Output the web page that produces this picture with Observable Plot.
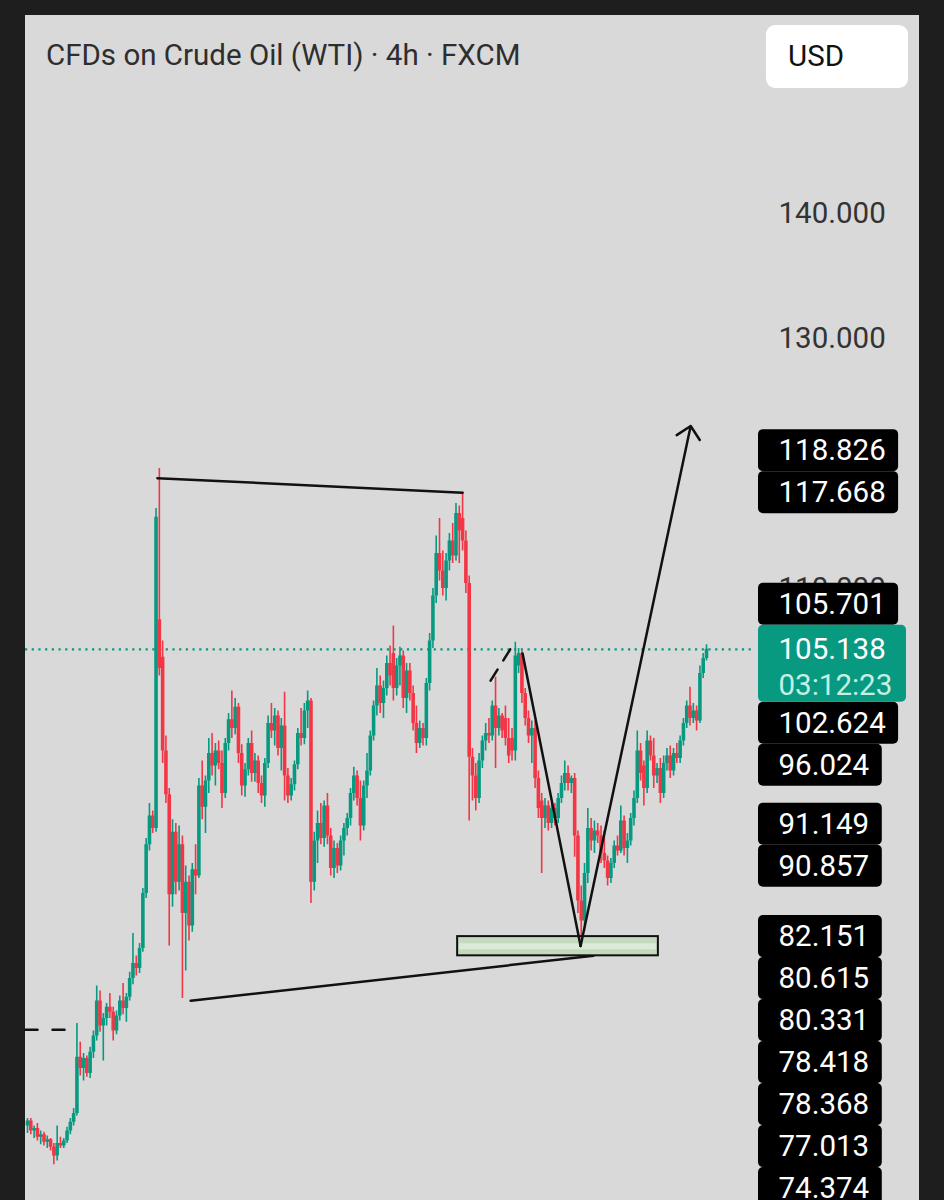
<!DOCTYPE html>
<html><head><meta charset="utf-8">
<script src="https://cdn.jsdelivr.net/npm/d3@7"></script>
<script src="https://cdn.jsdelivr.net/npm/@observablehq/plot@0.6"></script>
<style>
html,body{margin:0;padding:0;background:#1e1e1e;width:944px;height:1200px;overflow:hidden;font-family:Roboto,sans-serif}
#panel{position:absolute;left:25px;top:15px;width:894px;height:1185px;background:#d9d9d9}
#title{position:absolute;left:46px;top:38px;font-size:29.5px;line-height:34px;color:#2e2e2e;white-space:nowrap}
#usd{position:absolute;left:766px;top:25px;width:142px;height:63px;background:#fff;border-radius:9px;font-size:29.5px;line-height:63px;color:#111;box-sizing:border-box;padding-left:22px}
#chart{position:absolute;left:25px;top:95px}
</style></head><body>
<div id="panel"></div>
<div id="title">CFDs on Crude Oil (WTI) · 4h · FXCM</div>
<div id="usd">USD</div>
<div id="chart"></div>
<script>
// ---- data (4h candles) ----
const opens = [67.0,67.4,66.6,66.8,66.1,66.3,65.7,65.9,65.3,64.6,
65.6,65.4,65.8,66.6,67.3,68.0,72.5,71.6,72.4,71.2,
72.9,74.2,77.0,75.0,75.6,76.5,76.1,74.6,75.8,77.0,
76.4,77.3,78.8,80.0,79.6,81.2,85.6,89.5,91.8,90.8,
107.5,104.5,97.0,93.5,85.5,90.5,86.5,89.5,84.0,86.5,
83.0,87.5,87.0,94.2,92.5,94.6,96.8,95.8,97.0,96.0,
93.6,97.6,99.5,98.8,100.5,96.8,94.2,95.5,97.6,95.2,
96.2,94.4,93.4,96.0,99.2,98.6,99.8,97.2,99.0,95.0,
93.4,94.3,95.9,98.4,98.0,100.2,101.0,86.5,89.8,91.2,
90.0,92.6,90.2,87.6,89.2,87.8,89.8,90.8,91.6,93.6,
95.0,93.2,91.0,94.2,95.4,98.2,100.6,102.2,100.8,102.0,
104.0,104.8,102.0,103.8,104.6,101.2,103.4,101.6,99.2,97.6,
98.8,98.0,102.4,105.8,109.4,112.8,111.4,110.0,112.2,113.8,
112.6,116.0,115.6,113.8,110.4,96.5,95.0,93.2,96.2,97.8,
98.4,98.2,100.6,98.8,99.8,99.6,98.0,98.0,97.0,103.8,
104.8,101.6,99.6,98.2,98.8,94.8,93.0,91.6,92.6,91.2,
92.4,91.6,93.2,94.4,95.2,94.4,94.8,90.2,85.0,83.4,
87.2,90.8,89.8,90.6,90.2,88.8,88.2,86.8,88.0,89.4,
89.0,91.4,89.2,89.8,91.6,93.2,97.0,95.8,94.0,97.8,
96.6,95.0,95.6,93.6,96.0,96.6,95.4,96.8,96.4,97.8,
99.2,100.6,99.6,100.2,99.4,103.2,104.4];
const highs = [67.6,67.6,67.0,67.2,66.6,66.5,66.2,66.0,65.6,67.0,
66.1,66.0,66.9,67.6,68.4,75.2,73.7,72.8,72.6,73.3,
74.6,78.2,77.8,76.0,76.8,77.6,76.5,76.2,77.4,78.4,
77.6,79.3,82.4,80.6,81.6,86.0,90.0,92.8,92.2,116.4,
119.6,105.8,98.2,94.0,91.5,91.2,91.0,90.2,87.8,87.0,
88.0,89.5,94.8,96.2,95.0,98.0,98.4,97.6,97.8,97.0,
98.0,100.0,101.8,101.2,100.8,97.5,96.0,98.0,98.6,96.8,
96.6,95.0,96.4,99.8,100.8,100.4,100.2,99.6,101.7,95.6,
94.8,96.2,98.8,100.4,100.8,101.8,101.2,90.5,92.2,92.8,
93.0,93.6,90.8,89.8,89.6,90.2,91.2,92.0,94.0,95.7,
95.4,94.6,94.6,96.8,98.6,101.0,103.6,103.0,102.6,104.6,
105.4,107.0,104.4,105.3,105.0,104.0,104.0,102.2,100.6,99.4,
99.2,102.8,106.4,110.0,114.2,115.6,113.0,112.8,114.4,115.2,
116.8,116.6,117.7,114.6,111.0,97.2,96.0,96.8,98.2,99.2,
99.6,101.0,102.9,100.4,100.0,100.6,99.6,98.8,105.7,105.2,
105.0,102.0,100.2,99.4,99.4,95.4,93.6,93.2,93.0,92.8,
92.8,93.6,95.0,96.2,95.8,95.0,95.2,90.6,86.2,88.0,
92.4,91.6,91.4,91.2,91.0,90.6,88.6,88.4,89.8,90.2,
92.6,91.8,90.4,92.0,93.8,98.6,97.6,96.2,98.6,98.2,
98.0,96.0,96.4,96.6,97.2,97.4,97.2,97.6,98.2,99.6,
101.0,102.1,100.8,100.6,103.8,104.8,105.5];
const lows = [66.4,66.3,66.0,65.8,65.5,65.4,65.2,65.0,63.9,64.2,
65.2,65.2,65.6,66.3,67.0,67.8,71.0,70.6,70.9,70.8,
72.4,73.8,74.5,72.2,75.0,75.6,73.8,74.3,75.4,75.9,
75.3,77.0,78.3,79.0,79.2,80.9,85.2,89.0,90.4,90.5,
103.0,96.0,92.8,81.4,84.5,85.5,85.8,77.2,79.4,81.8,
82.5,85.5,86.8,91.5,90.4,93.6,95.0,94.2,95.5,92.4,
93.2,97.0,98.0,98.3,96.0,93.4,93.3,95.0,94.5,94.5,
93.6,92.8,92.5,95.6,98.0,97.4,96.6,95.4,93.0,92.8,
93.0,93.8,95.5,97.4,97.5,98.8,84.8,85.8,88.0,89.5,
89.3,89.5,87.0,86.8,87.2,87.4,88.6,90.2,91.0,93.0,
92.6,89.8,90.6,93.2,95.0,97.8,99.8,100.0,99.6,101.4,
102.2,101.0,101.4,102.2,100.4,100.0,101.0,98.6,96.8,97.2,
97.4,97.4,101.8,105.2,108.8,110.6,109.4,109.0,111.4,112.0,
112.2,112.0,113.0,109.6,91.4,93.0,92.2,92.8,95.6,97.0,
97.6,97.8,95.6,98.2,98.0,97.4,96.0,96.2,96.2,103.2,
100.8,99.0,97.6,96.0,94.0,91.6,87.2,90.8,90.6,90.8,
91.0,91.2,92.8,93.8,93.8,93.6,88.5,84.0,81.0,82.6,
86.4,89.0,88.8,89.6,88.0,87.6,86.2,86.4,87.6,88.6,
88.8,88.6,88.0,89.4,91.0,92.8,94.6,92.6,93.6,96.2,
94.0,94.4,92.8,93.2,95.4,94.8,95.0,96.0,96.0,97.4,
98.8,99.0,99.2,98.6,99.2,102.8,104.2];
const closes = [67.4,66.6,66.8,66.1,66.3,65.7,65.9,65.3,64.6,65.6,
65.4,65.8,66.6,67.3,68.0,72.5,71.6,72.4,71.2,72.9,
74.2,77.0,75.0,75.6,76.5,76.1,74.6,75.8,77.0,76.4,
77.3,78.8,80.0,79.6,81.2,85.6,89.5,91.8,90.8,115.7,
103.6,97.0,93.5,85.5,90.5,86.5,89.5,84.0,86.5,83.0,
87.5,87.0,94.2,92.5,94.6,96.8,95.8,97.0,96.0,93.6,
97.6,99.5,98.8,100.5,96.8,94.2,95.5,97.6,95.2,96.2,
94.4,93.4,96.0,99.2,98.6,99.8,97.2,99.0,95.0,93.4,
94.3,95.9,98.4,98.0,100.2,101.0,86.5,89.8,91.2,90.0,
92.6,90.2,87.6,89.2,87.8,89.8,90.8,91.6,93.6,95.0,
93.2,91.0,94.2,95.4,98.2,100.6,102.2,100.8,102.0,104.0,
103.0,102.0,103.8,104.6,101.2,103.4,101.6,99.2,97.6,98.8,
98.0,102.4,105.8,109.4,112.8,111.4,110.0,112.2,113.8,112.6,
116.0,114.6,113.8,110.4,96.5,95.0,93.2,96.2,97.8,98.4,
98.2,100.6,98.8,99.8,98.6,98.0,96.6,97.0,104.6,104.8,
101.6,99.6,98.2,98.8,94.8,92.4,91.6,92.6,91.2,92.4,
91.6,93.2,94.4,95.2,94.4,94.8,90.2,85.0,83.4,87.2,
90.8,89.8,90.6,90.2,88.8,88.2,86.8,88.0,89.4,89.0,
91.4,89.2,89.8,91.6,93.2,97.0,95.2,94.0,97.8,96.6,
95.0,95.6,93.6,96.0,96.6,95.4,96.8,96.4,97.8,99.2,
100.6,99.6,100.2,99.4,103.2,104.4,105.138];

const lastPrice = 105.138;
const countdown = "03:12:23";
// axis ticks that show (the others sit under the price tags)
const yTicks = [110, 130, 140];
// price tags on the right, in the order they are placed
const tagValues = [105.701, 102.624, 96.024, 117.668, 118.826, 91.149, 90.857, 82.151, 80.615, 80.331, 78.418, 78.368, 77.013, 74.374];

// drawings (bar index, price)
const topLineBars = [39.4, 132.0],  topLinePrices = [118.826, 117.668];
const lowLineBars = [49.5, 171.7],  lowLinePrices = [77.013, 80.615];
const zoneBars = [130.5, 191.4],    zonePrices = [80.615, 82.151];
const vBars = [150.2, 167.8, 201.2], vPrices = [104.8, 81.4, 123.0];
const dashBars = [140.5, 147.8],    dashPrices = [102.624, 105.701];
const leftDashBars = [-0.6, 11.5],  leftDashPrice = 74.7;

// ---- layout ----
const W = 894, H = 1105;
const firstPx = 2, lastPx = 681;
const n = closes.length;
const step = (lastPx - firstPx) / (n - 1);
const xDomain = [-firstPx / step, (W - firstPx) / step];
const y140px = 118, pxPerUnit = 12.5;
const yDomain = [140 - (H - y140px) / pxPerUnit, 140 + y140px / pxPerUnit];
const xs = Plot.scale({x: {domain: xDomain, range: [0, W]}});
const ys = Plot.scale({y: {domain: yDomain, range: [H, 0]}});

const G = "#089981", R = "#f23645";
const FS = 29.5;
const bars = closes.map((c, i) => ({i, o: opens[i], h: highs[i], l: lows[i], c, col: c >= opens[i] ? G : R}));

// tag placement (nearest free slot)
const tagH = 42, greenH = 77, colPx = 733, textPx = 753;
const cy0 = ys.apply(lastPrice);
const occupied = [[cy0 - 24, cy0 - 24 + greenH]];
const tags = [];
for (const v of tagValues) {
  const ideal = ys.apply(v);
  const fits = c => occupied.every(([a, b]) => c + tagH / 2 <= a + 0.01 || c - tagH / 2 >= b - 0.01);
  let best = ideal;
  if (!fits(ideal)) {
    const cands = occupied.flatMap(([a, b]) => [a - tagH / 2, b + tagH / 2]).filter(fits);
    best = cands.reduce((p, c) => Math.abs(c - ideal) < Math.abs(p - ideal) ? c : p);
  }
  occupied.push([best - tagH / 2, best + tagH / 2]);
  const label = v.toFixed(3);
  tags.push({label, y: ys.invert(best), y1: ys.invert(best - tagH / 2), y2: ys.invert(best + tagH / 2),
    x1: xs.invert(colPx), x2: xs.invert(colPx + 26 + label.length * 16.3)});
}
const greenBox = [{x1: xs.invert(colPx), x2: xs.invert(colPx + 148), y1: ys.invert(cy0 - 24), y2: ys.invert(cy0 - 24 + greenH)}];
const textX = xs.invert(textPx);

const seg = (bs, ps) => bs.map((b, k) => ({b, p: ps[k]}));

const chart = Plot.plot({
  width: W, height: H,
  marginTop: 0, marginBottom: 0, marginLeft: 0, marginRight: 0,
  x: {domain: xDomain, axis: null},
  y: {domain: yDomain, axis: null},
  color: {type: "identity"},
  style: {fontFamily: "Roboto, sans-serif", background: "transparent", overflow: "visible"},
  marks: [
    Plot.axisY(yTicks, {anchor: "right", tickSize: 0, tickPadding: 0, dx: textPx - W, textAnchor: "start",
      tickFormat: d => d.toFixed(3), fontSize: FS, fill: "#333", label: null}),
    Plot.ruleY([lastPrice], {x1: xDomain[0], x2: xs.invert(727), stroke: G, strokeWidth: 2.2, strokeDasharray: "2.2,4.5"}),
    Plot.ruleX(bars, {x: "i", y1: "l", y2: "h", stroke: "col", strokeWidth: 1.6}),
    Plot.ruleX(bars, {x: "i", y1: "o", y2: "c", stroke: "col", strokeWidth: 3.6}),
    // drawings
    Plot.line(seg(topLineBars, topLinePrices), {x: "b", y: "p", stroke: "#111", strokeWidth: 2.5}),
    Plot.line(seg(lowLineBars, lowLinePrices), {x: "b", y: "p", stroke: "#111", strokeWidth: 2.5}),
    Plot.rect([{x1: zoneBars[0], x2: zoneBars[1], y1: zonePrices[0], y2: zonePrices[1]}],
      {x1: "x1", x2: "x2", y1: "y1", y2: "y2", fill: "#c4dabf", stroke: "#111", strokeWidth: 2}),
    Plot.ruleY([(zonePrices[0] + zonePrices[1]) / 2], {x1: zoneBars[0] + 0.6, x2: zoneBars[1] - 0.6, stroke: "#dcead8", strokeWidth: 6}),
    Plot.line(seg(vBars.slice(0, 2), vPrices.slice(0, 2)), {x: "b", y: "p", stroke: "#111", strokeWidth: 2.5}),
    Plot.arrow([{x1: vBars[1], y1: vPrices[1], x2: vBars[2], y2: vPrices[2]}],
      {x1: "x1", y1: "y1", x2: "x2", y2: "y2", stroke: "#111", strokeWidth: 2.5, headAngle: 90, headLength: 10}),
    Plot.line(seg(dashBars, dashPrices), {x: "b", y: "p", stroke: "#111", strokeWidth: 2.5, strokeDasharray: "13,11"}),
    Plot.line(seg(leftDashBars, [leftDashPrice, leftDashPrice]), {x: "b", y: "p", stroke: "#111", strokeWidth: 2.5, strokeDasharray: "12,15"}),
    // price tags
    Plot.rect(tags, {x1: "x1", x2: "x2", y1: "y1", y2: "y2", fill: "#000", rx: 5}),
    Plot.text(tags, {x: textX, y: "y", text: "label", fill: "#fff", fontSize: FS, textAnchor: "start"}),
    Plot.rect(greenBox, {x1: "x1", x2: "x2", y1: "y1", y2: "y2", fill: G, rx: 5}),
    Plot.text([lastPrice], {x: textX, y: d => d, text: d => d.toFixed(3), fill: "#fff", fontSize: FS, textAnchor: "start"}),
    Plot.text([countdown], {x: textX, y: ys.invert(cy0 + 36), text: d => d, fill: "#c5efe3", fontSize: FS, textAnchor: "start"})
  ]
});
document.getElementById("chart").appendChild(chart);
</script>
</body></html>
